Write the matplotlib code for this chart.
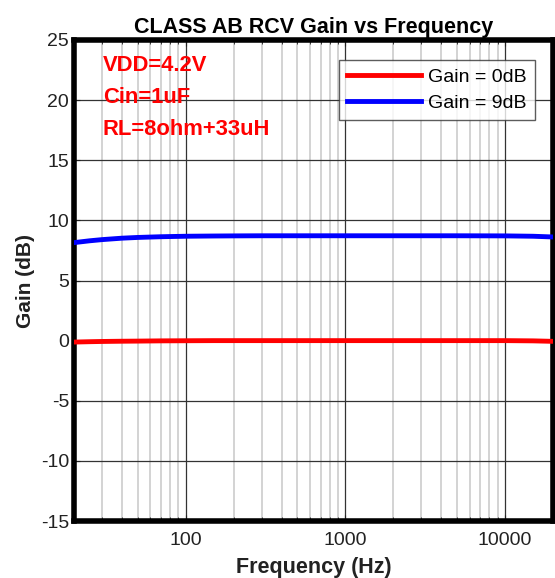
import numpy as np
import matplotlib.pyplot as plt
from matplotlib.ticker import LogLocator, NullFormatter, FixedLocator

plt.rcParams['font.family'] = ['Liberation Sans', 'DejaVu Sans']
plt.rcParams['axes.unicode_minus'] = False

# 读取的曲线数据
freq = [20, 25, 30, 40, 50, 70, 100, 150, 200, 300, 500, 1000, 2000, 5000, 10000, 15000, 20000]
gain_0db = [-0.12, -0.09, -0.07, -0.05, -0.04, -0.02, -0.01, 0.0, 0.0, 0.0, 0.0, 0.0, 0.0, 0.0, 0.0, -0.02, -0.06]
gain_9db = [8.15, 8.3, 8.4, 8.52, 8.58, 8.64, 8.68, 8.7, 8.71, 8.72, 8.72, 8.72, 8.72, 8.72, 8.71, 8.68, 8.62]

fig = plt.figure(figsize=(5.55, 5.78), dpi=100)
ax = fig.add_axes([74/555, 57/578, 479/555, 481/578])

ax.plot(freq, gain_0db, color='#ff0000', lw=3.5, label='Gain = 0dB', zorder=3)
ax.plot(freq, gain_9db, color='#0000ff', lw=3.5, label='Gain = 9dB', zorder=3)

ax.set_xscale('log')
ax.set_xlim(20, 20000)
ax.set_ylim(-15, 25)
ax.set_yticks(np.arange(-15, 26, 5))
ax.xaxis.set_major_locator(FixedLocator([100, 1000, 10000]))
ax.xaxis.set_minor_locator(LogLocator(base=10, subs=np.arange(2, 10)))
ax.xaxis.set_minor_formatter(NullFormatter())
ax.set_xticklabels(['100', '1000', '10000'])

ax.grid(True, which='major', color='#333333', lw=0.9)
ax.grid(True, which='minor', axis='x', color='#cccccc', lw=1.2)
ax.tick_params(which='both', direction='in', top=True, right=False, labelsize=14, colors='#222222')
ax.tick_params(which='major', length=4)
ax.tick_params(which='minor', length=3)
ax.tick_params(axis='x', pad=8)

for s in ax.spines.values():
    s.set_linewidth(4)
    s.set_color('black')

ax.set_xlabel('Frequency (Hz)', fontsize=15.5, fontweight='bold', color='#222222', labelpad=6)
ax.set_ylabel('Gain (dB)', fontsize=15, fontweight='bold', color='#222222', labelpad=4)
ax.set_title('CLASS AB RCV Gain vs Frequency', fontsize=15.5, fontweight='bold', pad=5)

ax.text(0.06, 0.968, 'VDD=4.2V\nCin=1uF\nRL=8ohm+33uH', transform=ax.transAxes,
        color='red', fontsize=15.8, fontweight='bold', va='top', ha='left', linespacing=1.68)

leg = ax.legend(loc='upper right', bbox_to_anchor=(0.962, 0.958), borderaxespad=0, fontsize=14,
                frameon=True, fancybox=False, edgecolor='#333333', handlelength=3.8, borderpad=0.4,
                labelspacing=0.45, handletextpad=0.4)
leg.get_frame().set_linewidth(1.0)

fig.savefig('out.png', dpi=100)
